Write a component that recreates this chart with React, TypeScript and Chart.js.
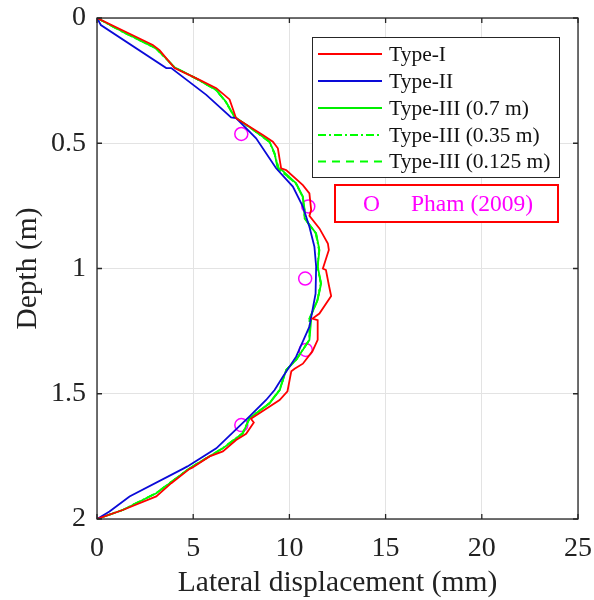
import React, { useEffect, useRef } from 'react';
import { Chart, registerables } from 'chart.js';

Chart.register(...registerables);

// ---- Data (displacement in mm, depth in m) ----
const typeIDepth = [0, 0.108, 0.128, 0.2, 0.247, 0.28, 0.325, 0.4, 0.467, 0.494, 0.52, 0.6, 0.607, 0.667, 0.7, 0.766, 0.79, 0.84, 0.9, 0.926, 1.0, 1.006, 1.066, 1.11, 1.18, 1.2, 1.206, 1.285, 1.33, 1.38, 1.4, 1.41, 1.49, 1.525, 1.6, 1.615, 1.66, 1.685, 1.73, 1.75, 1.795, 1.8, 1.857, 1.91, 1.964, 2.0];
const typeIDisp = [0, 2.9, 3.25, 4.03, 5.33, 6.2, 6.89, 7.23, 8.62, 9.14, 9.4, 9.57, 9.83, 10.7, 11.04, 11.13, 11.04, 11.56, 12.0, 12.05, 11.74, 11.9, 12.05, 12.17, 11.56, 11.2, 11.47, 11.47, 11.2, 10.7, 10.27, 10.1, 9.9, 9.49, 8.0, 8.15, 7.75, 7.23, 6.54, 5.85, 4.95, 4.81, 3.86, 3.08, 1.34, 0];

const typeIIDepth = [0, 0.028, 0.2, 0.2, 0.307, 0.397, 0.4, 0.48, 0.6, 0.673, 0.753, 0.833, 0.913, 0.993, 1.1, 1.232, 1.352, 1.432, 1.485, 1.525, 1.59, 1.718, 1.79, 1.8, 1.91, 1.97, 2.0];
const typeIIDisp = [0, 0.2, 3.6, 3.86, 5.68, 6.97, 7.23, 8.27, 9.31, 10.18, 10.7, 11.04, 11.3, 11.39, 11.36, 11.04, 10.35, 9.66, 9.23, 8.79, 7.93, 6.2, 4.7, 4.46, 1.69, 0.65, 0];

const typeIII07Depth = [0, 0.055, 0.121, 0.154, 0.197, 0.241, 0.287, 0.334, 0.394, 0.454, 0.494, 0.54, 0.604, 0.604, 0.66, 0.713, 0.766, 0.8, 0.86, 0.926, 0.993, 1.06, 1.126, 1.2, 1.206, 1.285, 1.365, 1.405, 1.485, 1.538, 1.598, 1.658, 1.718, 1.798, 1.897, 1.964, 2.0];
const typeIII07Disp = [0, 1.34, 3.07, 3.5, 4.03, 5.15, 6.2, 6.7, 7.15, 8.27, 8.97, 9.23, 9.4, 9.57, 10.35, 10.7, 10.79, 10.79, 11.39, 11.56, 11.47, 11.65, 11.47, 11.04, 11.13, 11.04, 10.35, 9.83, 9.5, 8.97, 7.93, 7.58, 6.54, 4.81, 3.08, 1.34, 0];

const typeIII035Depth = [0, 0.055, 0.121, 0.154, 0.197, 0.241, 0.287, 0.334, 0.394, 0.454, 0.494, 0.54, 0.604, 0.66, 0.713, 0.766, 0.8, 0.86, 0.926, 0.993, 1.06, 1.126, 1.2, 1.285, 1.365, 1.405, 1.485, 1.538, 1.598, 1.658, 1.718, 1.798, 1.897, 1.964, 2.0];
const typeIII035Disp = [0, 1.32, 3.05, 3.48, 4.02, 5.13, 6.18, 6.68, 7.13, 8.25, 8.95, 9.22, 9.45, 10.33, 10.68, 10.78, 10.8, 11.37, 11.54, 11.46, 11.63, 11.45, 11.06, 11.03, 10.34, 9.84, 9.48, 8.95, 7.92, 7.56, 6.52, 4.8, 3.06, 1.33, 0];

const typeIII0125Depth = [0, 0.055, 0.121, 0.154, 0.197, 0.241, 0.287, 0.334, 0.394, 0.454, 0.494, 0.54, 0.604, 0.66, 0.713, 0.766, 0.8, 0.86, 0.926, 0.993, 1.06, 1.126, 1.2, 1.285, 1.365, 1.405, 1.485, 1.538, 1.598, 1.658, 1.718, 1.798, 1.897, 1.964, 2.0];
const typeIII0125Disp = [0, 1.33, 3.06, 3.49, 4.03, 5.14, 6.19, 6.69, 7.14, 8.26, 8.96, 9.22, 9.46, 10.34, 10.69, 10.78, 10.79, 11.38, 11.55, 11.46, 11.64, 11.46, 11.05, 11.04, 10.35, 9.83, 9.49, 8.96, 7.93, 7.57, 6.53, 4.8, 3.07, 1.34, 0];

const phamDepth = [0.463, 0.752, 1.04, 1.325, 1.625];
const phamDisp = [7.5, 10.98, 10.82, 10.85, 7.5];

const seriesLabels = ['Type-I', 'Type-II', 'Type-III (0.7 m)', 'Type-III (0.35 m)', 'Type-III (0.125 m)'];
const phamLabel = 'Pham (2009)';
const xTickValues = [0, 5, 10, 15, 20, 25];
const yTickValues = [0, 0.5, 1, 1.5, 2];
const yTickLabels = ['0', '0.5', '1', '1.5', '2'];

const FONT = "'Liberation Serif', 'Times New Roman', serif";
const TEXT = '#222222';

const toPts = (xs: number[], ys: number[]) => xs.map((x, i) => ({ x, y: ys[i] }));

const overlayPlugin = {
  id: 'overlay',
  afterDatasetsDraw(chart: any) {
    const { ctx, chartArea: a, scales } = chart;
    const xs = scales.x;
    const ys = scales.y;
    ctx.save();
    ctx.strokeStyle = '#262626';
    ctx.lineWidth = 1.3;
    ctx.strokeRect(a.left, a.top, a.right - a.left, a.bottom - a.top);
    const tl = 5;
    ctx.beginPath();
    xTickValues.forEach((v) => {
      const p = xs.getPixelForValue(v);
      ctx.moveTo(p, a.bottom); ctx.lineTo(p, a.bottom - tl);
      ctx.moveTo(p, a.top); ctx.lineTo(p, a.top + tl);
    });
    yTickValues.forEach((v) => {
      const p = ys.getPixelForValue(v);
      ctx.moveTo(a.left, p); ctx.lineTo(a.left + tl, p);
      ctx.moveTo(a.right, p); ctx.lineTo(a.right - tl, p);
    });
    ctx.stroke();

    // legend box
    const L = 312, T = 37, R = 559, B = 177;
    ctx.fillStyle = '#ffffff';
    ctx.fillRect(L, T, R - L, B - T);
    ctx.strokeStyle = '#262626';
    ctx.lineWidth = 1;
    ctx.strokeRect(L + 0.5, T + 0.5, R - L, B - T);
    const rowY = [54, 81, 108, 135, 161.5];
    ctx.font = `21.5px ${FONT}`;
    ctx.textBaseline = 'middle';
    ctx.textAlign = 'left';
    seriesLabels.forEach((lab, i) => {
      const ds = chart.data.datasets.find((d: any) => d.label === lab);
      ctx.strokeStyle = ds.borderColor;
      ctx.lineWidth = 1.8;
      ctx.setLineDash(ds.borderDash || []);
      ctx.beginPath();
      ctx.moveTo(318, rowY[i]);
      ctx.lineTo(382, rowY[i]);
      ctx.stroke();
      ctx.setLineDash([]);
      ctx.fillStyle = '#111';
      ctx.fillText(lab, 389, rowY[i] + 1);
    });

    // Pham box
    const pL = 335, pT = 185, pR = 558, pB = 222;
    ctx.fillStyle = '#ffffff';
    ctx.fillRect(pL, pT, pR - pL, pB - pT);
    ctx.strokeStyle = '#ff0000';
    ctx.lineWidth = 2;
    ctx.strokeRect(pL, pT, pR - pL, pB - pT);
    ctx.fillStyle = '#ff00ff';
    ctx.font = `23.5px ${FONT}`;
    ctx.fillText('O', 363, 205);
    ctx.fillText(phamLabel, 411, 205);
    ctx.restore();
  },
};

export default function App() {
  const ref = useRef<HTMLCanvasElement>(null);
  useEffect(() => {
    document.body.style.margin = '0';
    const canvas = ref.current;
    if (!canvas) return;
    const lineDs = (label: string, xs: number[], ys: number[], color: string, dash: number[] = []) => ({
      label,
      data: toPts(xs, ys),
      showLine: true,
      borderColor: color,
      backgroundColor: color,
      borderWidth: 1.8,
      borderDash: dash,
      pointRadius: 0,
      pointHoverRadius: 0,
      tension: 0,
      fill: false,
    });
    const chart = new Chart(canvas, {
      type: 'scatter',
      data: {
        datasets: [
          lineDs(seriesLabels[0], typeIDisp, typeIDepth, '#ff0000'),
          lineDs(seriesLabels[1], typeIIDisp, typeIIDepth, '#0a0ad8'),
          lineDs(seriesLabels[4], typeIII0125Disp, typeIII0125Depth, '#00ff00', [8, 6]),
          lineDs(seriesLabels[3], typeIII035Disp, typeIII035Depth, '#00ff00', [8, 3, 2, 3]),
          lineDs(seriesLabels[2], typeIII07Disp, typeIII07Depth, '#00ee00'),
          {
            label: phamLabel,
            data: toPts(phamDisp, phamDepth),
            showLine: false,
            pointStyle: 'circle',
            pointRadius: 6.5,
            borderColor: '#ff00ff',
            backgroundColor: 'rgba(0,0,0,0)',
            pointBorderWidth: 1.5,
            borderWidth: 1.5,
          } as any,
        ],
      },
      options: {
        animation: false,
        responsive: false,
        maintainAspectRatio: false,
        devicePixelRatio: 1,
        layout: { padding: { left: 0, right: 16, top: 18, bottom: 0 } },
        plugins: { legend: { display: false }, tooltip: { enabled: false } },
        scales: {
          x: {
            type: 'linear',
            position: 'bottom',
            min: 0,
            max: 25,
            afterFit: (s: any) => {
              s.height = 81;
              s.paddingLeft = 0; s.paddingRight = 0; s.paddingTop = 0; s.paddingBottom = 0;
            },
            ticks: { stepSize: 5, color: TEXT, padding: 13, font: { family: FONT, size: 28 } },
            grid: { color: '#e3e3e3', lineWidth: 1, drawTicks: false },
            border: { display: false },
            title: { display: true, text: 'Lateral displacement (mm)', color: TEXT, font: { family: FONT, size: 29.5, lineHeight: 1 }, padding: { top: 0, bottom: 2 } },
          },
          y: {
            type: 'linear',
            position: 'left',
            reverse: true,
            min: 0,
            max: 2,
            afterFit: (s: any) => {
              s.width = 97;
              s.paddingLeft = 0; s.paddingRight = 0; s.paddingTop = 0; s.paddingBottom = 0;
            },
            ticks: {
              stepSize: 0.5,
              color: TEXT,
              padding: 11,
              font: { family: FONT, size: 28 },
              callback: (v: number) => {
                const i = yTickValues.indexOf(v);
                return i >= 0 ? yTickLabels[i] : '';
              },
            },
            grid: { color: '#e3e3e3', lineWidth: 1, drawTicks: false },
            border: { display: false },
            title: { display: true, text: 'Depth (m)', color: TEXT, font: { family: FONT, size: 29.5 }, padding: { top: 10.6, bottom: 0 } },
          },
        },
      } as any,
      plugins: [overlayPlugin],
    });
    return () => chart.destroy();
  }, []);
  return (
    <div style={{ width: 594, height: 600 }}>
      <canvas ref={ref} width={594} height={600} style={{ display: 'block' }} />
    </div>
  );
}
